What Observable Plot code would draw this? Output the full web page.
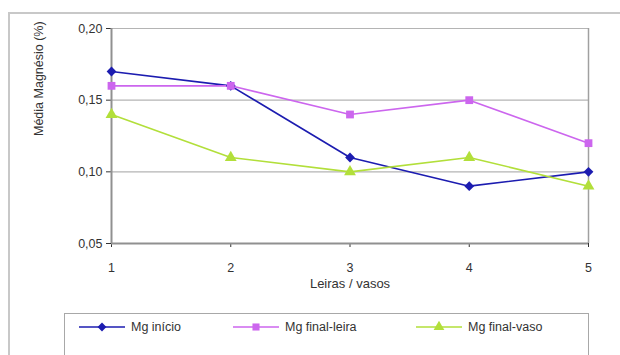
<!DOCTYPE html>
<html>
<head>
<meta charset="utf-8">
<script src="https://cdn.jsdelivr.net/npm/d3@7"></script>
<script src="https://cdn.jsdelivr.net/npm/@observablehq/plot@0.6"></script>
<style>
  html, body { margin: 0; padding: 0; background: #fff; width: 620px; height: 355px; overflow: hidden; }
  body { position: relative; font-family: "Liberation Sans", Arial, sans-serif; }
  #frame { position: absolute; left: 8px; top: 12px; width: 640px; height: 400px;
           border-left: 2px solid #c8c8c8; border-top: 2px solid #c8c8c8; }
  #chart { position: absolute; left: 0; top: 0; }
  #legend { position: absolute; left: 64px; top: 313px; width: 523px; height: 60px;
            border: 1px solid #a8a8a8; background: #fff; }
  .item { position: absolute; top: 6px; display: flex; align-items: center; font-size: 12.5px; color: #333; }
  .item svg { margin-right: 5px; }
</style>
</head>
<body>
<div id="frame"></div>
<div id="chart"></div>
<div id="legend"></div>
<script>
const leiras = [1, 2, 3, 4, 5];
const mgInicio = [0.17, 0.16, 0.11, 0.09, 0.10];
const mgFinalLeira = [0.16, 0.16, 0.14, 0.15, 0.12];
const mgFinalVaso = [0.14, 0.11, 0.10, 0.11, 0.09];
const seriesNames = ["Mg início", "Mg final-leira", "Mg final-vaso"];
const seriesColors = ["#1c1cb0", "#cc66ee", "#b2df3a"];
const seriesSymbols = ["diamond2", "square", "triangle"];
const yTicks = [0.05, 0.10, 0.15, 0.20];
const xLabel = "Leiras / vasos";
const yLabel = "Média Magnésio (%)";

const seriesValues = [mgInicio, mgFinalLeira, mgFinalVaso];
const data = [];
seriesValues.forEach((vals, i) => vals.forEach((v, j) => data.push({serie: seriesNames[i], x: leiras[j], y: v})));

const fmt = d => d.toFixed(2).replace(".", ",");

const chart = Plot.plot({
  width: 620,
  height: 300,
  marginLeft: 111,
  marginRight: 32,
  marginTop: 28,
  marginBottom: 57,
  style: {fontFamily: "Liberation Sans, Arial, sans-serif", fontSize: "12.5px", color: "#333", background: "transparent"},
  x: {domain: [1, 5], ticks: leiras, tickFormat: d => String(d), tickSize: 4, tickPadding: 16, label: null},
  y: {domain: [0.05, 0.20], ticks: yTicks, tickFormat: fmt, tickSize: 5, tickPadding: 4, label: null},
  color: {domain: seriesNames, range: seriesColors},
  symbol: {domain: seriesNames, range: seriesSymbols},
  marks: [
    Plot.ruleY(yTicks.slice(1), {stroke: "#b4b4b4", strokeWidth: 1.2}),
    Plot.ruleX([5], {stroke: "#a0a0a0", strokeWidth: 1.5}),
    Plot.ruleY([0.05], {stroke: "#909090", strokeWidth: 2}),
    Plot.ruleX([1], {stroke: "#909090", strokeWidth: 2}),
    Plot.line(data, {x: "x", y: "y", z: "serie", stroke: "serie", strokeWidth: 1.6}),
    Plot.dot(data, {x: "x", y: "y", fill: "serie", symbol: "serie", r: 4.4, stroke: "none"}),
    Plot.text([xLabel], {frameAnchor: "bottom", dy: 44, text: d => d, fontSize: 13, fill: "#333"}),
    Plot.text([yLabel], {frameAnchor: "left", dx: -73, rotate: -90, text: d => d, fontSize: 12.5, fill: "#333"})
  ]
});
document.getElementById("chart").appendChild(chart);

const legend = document.getElementById("legend");
const itemX = [13, 167, 350];
seriesNames.forEach((name, i) => {
  const div = document.createElement("div");
  div.className = "item";
  div.style.left = itemX[i] + "px";
  const sym = d3.create("svg").attr("width", 48).attr("height", 14);
  sym.append("line").attr("x1", 1).attr("x2", 47).attr("y1", 7).attr("y2", 7)
    .attr("stroke", seriesColors[i]).attr("stroke-width", 1.6);
  const shapes = [d3.symbolDiamond2, d3.symbolSquare, d3.symbolTriangle];
  sym.append("path").attr("d", d3.symbol(shapes[i], 50)()).attr("transform", "translate(24,7)")
    .attr("fill", seriesColors[i]);
  div.appendChild(sym.node());
  const span = document.createElement("span");
  span.textContent = name;
  div.appendChild(span);
  legend.appendChild(div);
});
</script>
</body>
</html>
